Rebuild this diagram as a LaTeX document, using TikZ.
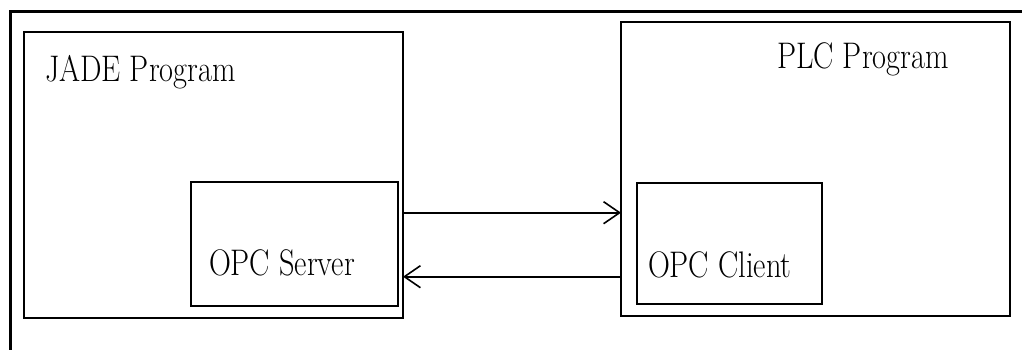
\documentclass[tikz,border=0pt]{standalone}
\usetikzlibrary{arrows.meta}
\newcommand{\narrowtext}[1]{\scalebox{0.82}[1]{#1}}
\begin{document}
\begin{tikzpicture}[x=1pt,y=-1pt,
  box/.style={draw=black,line width=2pt,rectangle,inner sep=0pt,outer sep=0pt},
  lbl/.style={anchor=base west,inner sep=0pt,outer sep=0pt,font=\fontsize{37}{40}\selectfont},
  conn/.style={draw=black,line width=2pt,-{Straight Barb[length=16pt,width=22pt,line width=1.6pt]}}]
\fill[white] (0,0) rectangle (1022,350);
\useasboundingbox (0,0) rectangle (1022,350);
% outer frame
\draw[line width=3.5pt] (10.5,352) -- (10.5,11.5) -- (1024,11.5);
% boxes
\node[box,minimum width=379pt,minimum height=286.3pt] (jade) at (213.5,174.85) {};
\node[box,minimum width=207pt,minimum height=124.3pt] (server) at (294.2,243.85) {};
\node[box,minimum width=389pt,minimum height=294.3pt] (plc) at (815.5,168.85) {};
\node[box,minimum width=185pt,minimum height=120.7pt] (client) at (729.2,243.65) {};
% labels
\node[lbl] (jadelbl) at (45,82) {\narrowtext{JADE Program}};
\node[lbl] (plclbl) at (777,69) {\narrowtext{PLC Program}};
\node[lbl] (serverlbl) at (209,275) {\narrowtext{OPC Server}};
\node[lbl] (clientlbl) at (648,277) {\narrowtext{OPC Client}};
% connectors
\coordinate (ya) at (0,212.7);
\coordinate (yb) at (0,276.7);
\draw[conn] (jade.east |- ya) -- (plc.west |- ya);
\draw[conn] (plc.west |- yb) -- (jade.east |- yb);
\end{tikzpicture}
\end{document}
